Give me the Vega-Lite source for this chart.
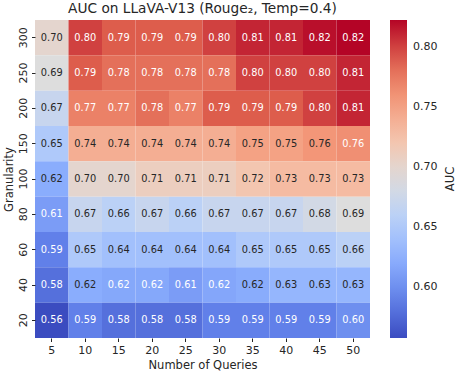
{
  "$schema": "https://vega.github.io/schema/vega-lite/v6.json",
  "autosize": {"type": "none"},
  "padding": {"left": 35, "top": 20, "right": 86, "bottom": 35},
  "width": 335,
  "height": 318,
  "background": "white",
  "config": {"font": "DejaVu Sans", "view": {"stroke": null},
    "axis": {"labelFont": "DejaVu Sans", "titleFont": "DejaVu Sans"},
    "legend": {"labelFont": "DejaVu Sans", "titleFont": "DejaVu Sans"},
    "title": {"font": "DejaVu Sans"},
    "text": {"font": "DejaVu Sans"}},
  "title": {"text": "AUC on LLaVA-V13 (Rouge₂, Temp=0.4)", "font": "DejaVu Sans", "fontSize": 13.7, "fontWeight": "normal", "color": "#262626", "offset": 4},
  "data": {"values": [
    {"g": 300, "q": 5, "auc": 0.70}, {"g": 300, "q": 10, "auc": 0.80}, {"g": 300, "q": 15, "auc": 0.79}, {"g": 300, "q": 20, "auc": 0.79}, {"g": 300, "q": 25, "auc": 0.79}, {"g": 300, "q": 30, "auc": 0.80}, {"g": 300, "q": 35, "auc": 0.81}, {"g": 300, "q": 40, "auc": 0.81}, {"g": 300, "q": 45, "auc": 0.818}, {"g": 300, "q": 50, "auc": 0.822},
    {"g": 250, "q": 5, "auc": 0.69}, {"g": 250, "q": 10, "auc": 0.79}, {"g": 250, "q": 15, "auc": 0.78}, {"g": 250, "q": 20, "auc": 0.78}, {"g": 250, "q": 25, "auc": 0.78}, {"g": 250, "q": 30, "auc": 0.78}, {"g": 250, "q": 35, "auc": 0.80}, {"g": 250, "q": 40, "auc": 0.80}, {"g": 250, "q": 45, "auc": 0.80}, {"g": 250, "q": 50, "auc": 0.81},
    {"g": 200, "q": 5, "auc": 0.67}, {"g": 200, "q": 10, "auc": 0.77}, {"g": 200, "q": 15, "auc": 0.77}, {"g": 200, "q": 20, "auc": 0.78}, {"g": 200, "q": 25, "auc": 0.77}, {"g": 200, "q": 30, "auc": 0.79}, {"g": 200, "q": 35, "auc": 0.79}, {"g": 200, "q": 40, "auc": 0.79}, {"g": 200, "q": 45, "auc": 0.80}, {"g": 200, "q": 50, "auc": 0.81},
    {"g": 150, "q": 5, "auc": 0.65}, {"g": 150, "q": 10, "auc": 0.74}, {"g": 150, "q": 15, "auc": 0.74}, {"g": 150, "q": 20, "auc": 0.74}, {"g": 150, "q": 25, "auc": 0.74}, {"g": 150, "q": 30, "auc": 0.74}, {"g": 150, "q": 35, "auc": 0.75}, {"g": 150, "q": 40, "auc": 0.75}, {"g": 150, "q": 45, "auc": 0.758}, {"g": 150, "q": 50, "auc": 0.762},
    {"g": 100, "q": 5, "auc": 0.622}, {"g": 100, "q": 10, "auc": 0.70}, {"g": 100, "q": 15, "auc": 0.70}, {"g": 100, "q": 20, "auc": 0.71}, {"g": 100, "q": 25, "auc": 0.71}, {"g": 100, "q": 30, "auc": 0.71}, {"g": 100, "q": 35, "auc": 0.72}, {"g": 100, "q": 40, "auc": 0.73}, {"g": 100, "q": 45, "auc": 0.73}, {"g": 100, "q": 50, "auc": 0.73},
    {"g": 80, "q": 5, "auc": 0.61}, {"g": 80, "q": 10, "auc": 0.67}, {"g": 80, "q": 15, "auc": 0.66}, {"g": 80, "q": 20, "auc": 0.67}, {"g": 80, "q": 25, "auc": 0.66}, {"g": 80, "q": 30, "auc": 0.67}, {"g": 80, "q": 35, "auc": 0.67}, {"g": 80, "q": 40, "auc": 0.67}, {"g": 80, "q": 45, "auc": 0.68}, {"g": 80, "q": 50, "auc": 0.69},
    {"g": 60, "q": 5, "auc": 0.59}, {"g": 60, "q": 10, "auc": 0.65}, {"g": 60, "q": 15, "auc": 0.64}, {"g": 60, "q": 20, "auc": 0.64}, {"g": 60, "q": 25, "auc": 0.64}, {"g": 60, "q": 30, "auc": 0.64}, {"g": 60, "q": 35, "auc": 0.65}, {"g": 60, "q": 40, "auc": 0.65}, {"g": 60, "q": 45, "auc": 0.65}, {"g": 60, "q": 50, "auc": 0.66},
    {"g": 40, "q": 5, "auc": 0.58}, {"g": 40, "q": 10, "auc": 0.622}, {"g": 40, "q": 15, "auc": 0.618}, {"g": 40, "q": 20, "auc": 0.618}, {"g": 40, "q": 25, "auc": 0.61}, {"g": 40, "q": 30, "auc": 0.617}, {"g": 40, "q": 35, "auc": 0.621}, {"g": 40, "q": 40, "auc": 0.63}, {"g": 40, "q": 45, "auc": 0.63}, {"g": 40, "q": 50, "auc": 0.63},
    {"g": 20, "q": 5, "auc": 0.558}, {"g": 20, "q": 10, "auc": 0.59}, {"g": 20, "q": 15, "auc": 0.58}, {"g": 20, "q": 20, "auc": 0.58}, {"g": 20, "q": 25, "auc": 0.58}, {"g": 20, "q": 30, "auc": 0.59}, {"g": 20, "q": 35, "auc": 0.59}, {"g": 20, "q": 40, "auc": 0.59}, {"g": 20, "q": 45, "auc": 0.59}, {"g": 20, "q": 50, "auc": 0.60}
  ]},
  "encoding": {
    "x": {"field": "q", "type": "ordinal", "sort": "ascending", "title": "Number of Queries",
      "axis": {"labelAngle": 0, "labelFontSize": 11, "titleFontSize": 11.5, "titleFontWeight": "normal", "labelColor": "#262626", "titleColor": "#262626", "domain": false, "tickColor": "#262626", "tickSize": 3.5, "labelPadding": 3, "titlePadding": 4},
      "scale": {"paddingInner": 0, "paddingOuter": 0}},
    "y": {"field": "g", "type": "ordinal", "sort": "descending", "title": "Granularity",
      "axis": {"labelAngle": -90, "labelAlign": "center", "labelBaseline": "bottom", "labelFontSize": 11, "titleFontSize": 11.5, "titleFontWeight": "normal", "labelColor": "#262626", "titleColor": "#262626", "domain": false, "tickColor": "#262626", "tickSize": 3.5, "labelPadding": 3, "titlePadding": 3},
      "scale": {"paddingInner": 0, "paddingOuter": 0}}
  },
  "layer": [
    {
      "mark": {"type": "rect"},
      "encoding": {
        "color": {"field": "auc", "type": "quantitative", "title": "AUC",
          "scale": {"domain": [0.558, 0.591, 0.624, 0.657, 0.690, 0.723, 0.756, 0.789, 0.822],
            "range": ["#3b4cc0", "#6282ea", "#8db0fe", "#b8d0f9", "#dddddd", "#f5c4ac", "#f49a7b", "#de604d", "#b40426"], "interpolate": "rgb", "clamp": true},
          "legend": {"values": [0.60, 0.65, 0.70, 0.75, 0.80], "format": ".2f", "gradientLength": 318, "gradientThickness": 17, "offset": 20, "padding": 0,
            "titleOrient": "right", "titleFontSize": 11.5, "titleFontWeight": "normal", "titleColor": "#262626", "labelFontSize": 11, "labelColor": "#262626", "labelOffset": 6, "tickCount": 5, "gradientStrokeWidth": 0,
            "encode": {"title": {"update": {"angle": {"value": 270}, "dy": {"value": 14}}}}}
        }
      }
    },
    {
      "mark": {"type": "text", "fontSize": 9.8, "font": "DejaVu Sans"},
      "encoding": {
        "text": {"field": "auc", "type": "quantitative", "format": ".2f"},
        "color": {"condition": {"test": "datum.auc < 0.62 || datum.auc >= 0.76", "value": "white"}, "value": "#262626"}
      }
    }
  ]
}
